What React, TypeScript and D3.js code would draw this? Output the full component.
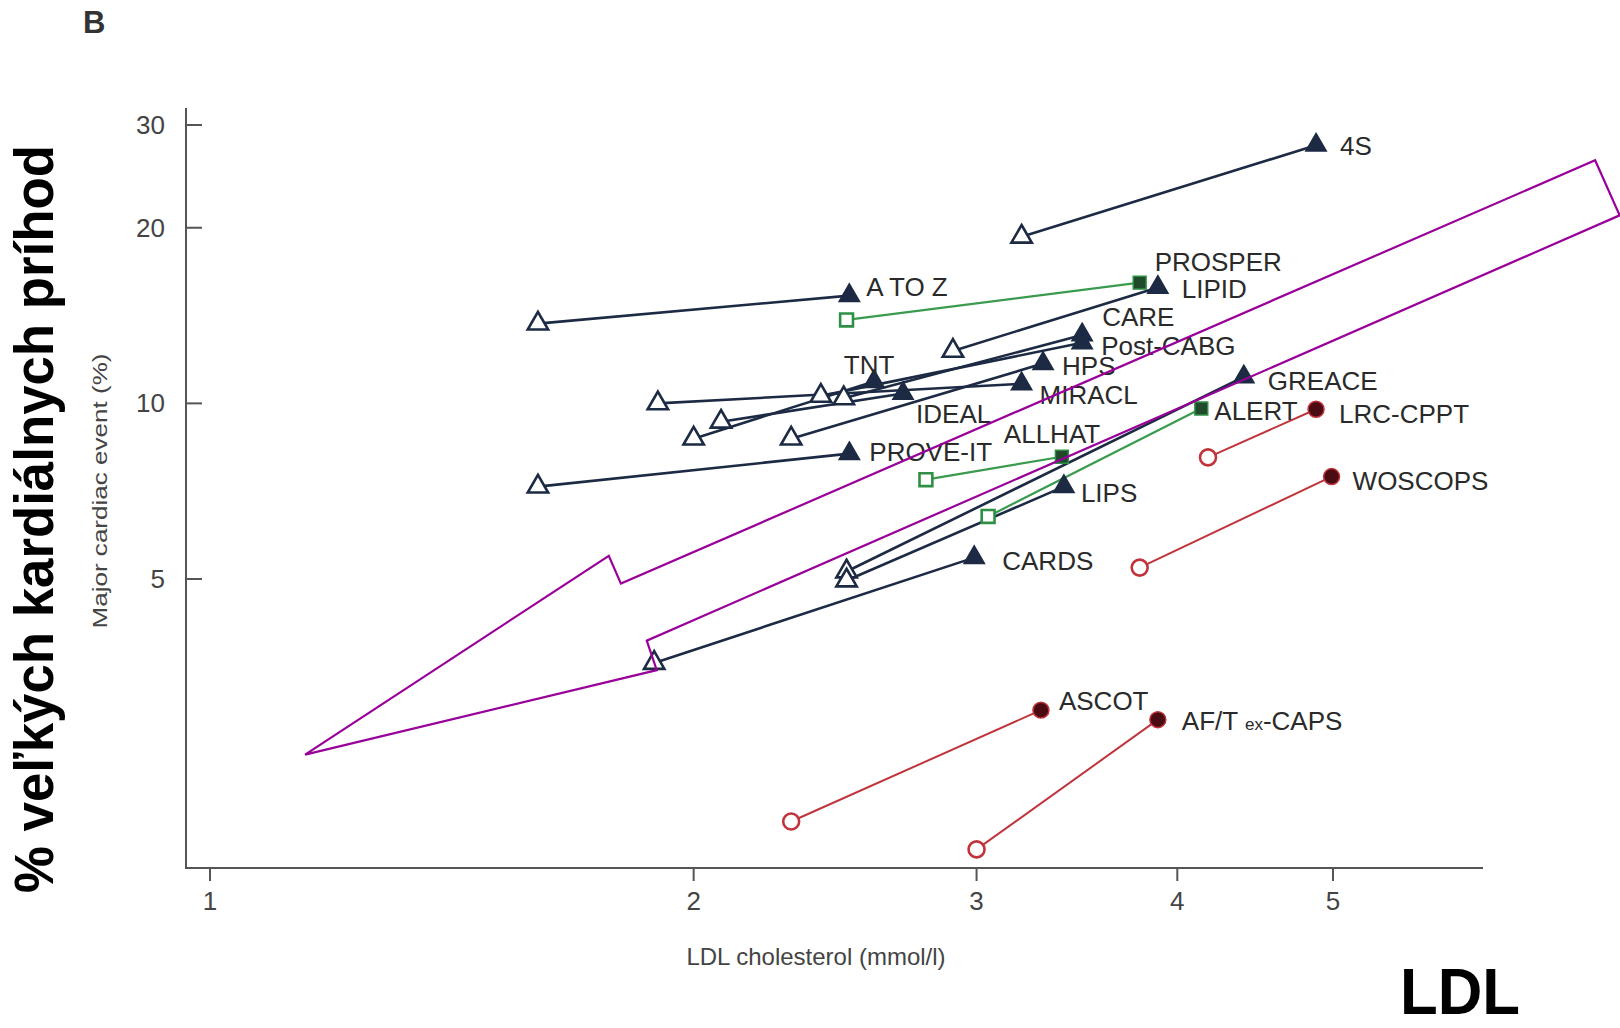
import * as React from "react";
import * as d3 from "d3";

// trials, placebo/control (filled) vs treated (open)
const trials = [
  "4S", "A TO Z", "PROSPER", "LIPID", "CARE", "Post-CABG", "HPS", "TNT", "MIRACL", "IDEAL",
  "PROVE-IT", "ALLHAT", "GREACE", "ALERT", "LIPS", "CARDS", "LRC-CPPT", "WOSCOPS", "ASCOT", "AF/TexCAPS",
];
const markerKind = [
  "tri", "tri", "sq", "tri", "tri", "tri", "tri", "tri", "tri", "tri",
  "tri", "sq", "tri", "sq", "tri", "tri", "circ", "circ", "circ", "circ",
];
const controlLdl = [4.88, 2.5, 3.79, 3.89, 3.49, 3.49, 3.3, 2.59, 3.2, 2.7, 2.5, 3.39, 4.4, 4.14, 3.4, 2.99, 4.88, 4.99, 3.29, 3.89];
const controlRate = [27.7, 15.3, 16.1, 15.8, 13.1, 12.7, 11.7, 10.9, 10.8, 10.4, 8.2, 8.1, 11.1, 9.8, 7.2, 5.44, 9.77, 7.49, 2.98, 2.87];
const treatedLdl = [3.2, 1.6, 2.49, 2.9, 2.48, 2.4, 2.3, 2.0, 1.9, 2.08, 1.6, 2.79, 2.49, 3.05, 2.49, 1.89, 4.18, 3.79, 2.3, 3.0];
const treatedRate = [19.3, 13.7, 13.9, 12.3, 10.2, 10.3, 8.7, 8.7, 10.0, 9.3, 7.2, 7.4, 5.15, 6.4, 4.97, 3.59, 8.08, 5.23, 1.92, 1.72];

const xTicks = [1, 2, 3, 4, 5];
const yTicks = [30, 20, 10, 5];

// annotation arrow outline, in data units (LDL, %)
const arrowLdl = [1.146, 1.771, 1.802, 7.28, 7.54, 1.87, 1.897];
const arrowRate = [2.5, 5.48, 4.91, 26.1, 21.0, 3.92, 3.49];

// label placement relative to the control marker
const labelPos: Record<string, { dx: number; dy: number; anchor?: string }> = {
  "4S": { dx: 24, dy: 10 },
  "A TO Z": { dx: 17, dy: 0 },
  PROSPER: { dx: 15, dy: -12 },
  LIPID: { dx: 24, dy: 11 },
  CARE: { dx: 20, dy: -9 },
  "Post-CABG": { dx: 19, dy: 12 },
  HPS: { dx: 19, dy: 11 },
  TNT: { dx: -5, dy: -8, anchor: "middle" },
  MIRACL: { dx: 18, dy: 20 },
  IDEAL: { dx: 13, dy: 30 },
  "PROVE-IT": { dx: 20, dy: 7 },
  ALLHAT: { dx: -58, dy: -14 },
  GREACE: { dx: 24, dy: 13 },
  ALERT: { dx: 13, dy: 12 },
  LIPS: { dx: 17, dy: 15 },
  CARDS: { dx: 28, dy: 12 },
  "LRC-CPPT": { dx: 23, dy: 14 },
  WOSCOPS: { dx: 21, dy: 13 },
  ASCOT: { dx: 18, dy: 0 },
  "AF/TexCAPS": { dx: 24, dy: 10 },
};

const W = 1620;
const H = 1028;
const left = 186;
const bottom = 868;
const top = 108;
const right = 1483;

const palette: Record<string, { line: string; fill: string; edge: string; lw: number }> = {
  tri: { line: "#1d2a44", fill: "#1d2a44", edge: "#1d2a44", lw: 2.6 },
  sq: { line: "#3a9a4e", fill: "#1f4a2c", edge: "#2f8f45", lw: 2.2 },
  circ: { line: "#c0343c", fill: "#4a0c12", edge: "#c0343c", lw: 2 },
};

const labelFont = "'Liberation Sans', Arial, sans-serif";

export default function App() {
  const x = d3.scaleLog().domain([1, 5]).range([210, 1333]);
  const y = d3.scaleLog().domain([5, 30]).range([579, 125]);

  const symbolFor = (kind: string) => {
    const type = kind === "tri" ? d3.symbolTriangle : kind === "sq" ? d3.symbolSquare : d3.symbolCircle;
    const size = kind === "tri" ? 180 : kind === "sq" ? 165 : 200;
    return d3.symbol().type(type).size(size)() as string;
  };

  const arrowPath =
    d3.line()(arrowLdl.map((v, i) => [x(v), y(arrowRate[i])] as [number, number])) + "Z";

  return (
    <div style={{ position: "fixed", left: 0, top: 0 }}>
      <svg width={W} height={H} viewBox={`0 0 ${W} ${H}`} style={{ display: "block", background: "#fff" }}>
        <rect width={W} height={H} fill="#fff" />

        {/* panel letter */}
        <text x={83} y={33} fontFamily={labelFont} fontWeight="bold" fontSize={31} fill="#333">
          B
        </text>

        {/* axes */}
        <path d={`M${left},${top}V${bottom}H${right}`} fill="none" stroke="#555" strokeWidth={2} />
        {yTicks.map((t) => (
          <g key={`y${t}`}>
            <line x1={left} x2={left + 16} y1={y(t)} y2={y(t)} stroke="#555" strokeWidth={2} />
            <text x={165} y={y(t)} dy="0.35em" textAnchor="end" fontFamily={labelFont} fontSize={26} fill="#444">
              {t}
            </text>
          </g>
        ))}
        {xTicks.map((t) => (
          <g key={`x${t}`}>
            <line x1={x(t)} x2={x(t)} y1={bottom} y2={bottom + 13} stroke="#555" strokeWidth={2} />
            <text x={x(t)} y={901} dy="0.35em" textAnchor="middle" fontFamily={labelFont} fontSize={26} fill="#444">
              {t}
            </text>
          </g>
        ))}
        <text x={816} y={957} dy="0.35em" textAnchor="middle" fontFamily={labelFont} fontSize={24} fill="#444">
          LDL cholesterol (mmol/l)
        </text>
        <text
          transform={`translate(100,491) rotate(-90)`}
          dy="0.35em"
          textAnchor="middle"
          fontFamily={labelFont}
          fontSize={20}
          textLength={275}
          lengthAdjust="spacingAndGlyphs"
          fill="#444"
        >
          Major cardiac event (%)
        </text>

        {/* connecting lines */}
        {trials.map((name, i) => {
          const p = palette[markerKind[i]];
          return (
            <line
              key={`l${name}`}
              x1={x(controlLdl[i])}
              y1={y(controlRate[i])}
              x2={x(treatedLdl[i])}
              y2={y(treatedRate[i])}
              stroke={p.line}
              strokeWidth={p.lw}
            />
          );
        })}

        {/* treated (open) markers */}
        {trials.map((name, i) => {
          const p = palette[markerKind[i]];
          return (
            <path
              key={`o${name}`}
              d={symbolFor(markerKind[i])}
              transform={`translate(${x(treatedLdl[i])},${y(treatedRate[i])})`}
              fill="#fff"
              stroke={p.edge}
              strokeWidth={2.6}
            />
          );
        })}

        {/* control (filled) markers */}
        {trials.map((name, i) => {
          const p = palette[markerKind[i]];
          return (
            <path
              key={`f${name}`}
              d={symbolFor(markerKind[i])}
              transform={`translate(${x(controlLdl[i])},${y(controlRate[i])})`}
              fill={p.fill}
              stroke={p.edge}
              strokeWidth={1.5}
            />
          );
        })}

        {/* trial labels */}
        {trials.map((name, i) => {
          const pos = labelPos[name];
          const lx = x(controlLdl[i]) + pos.dx;
          const ly = y(controlRate[i]) + pos.dy;
          return (
            <text
              key={`t${name}`}
              x={lx}
              y={ly}
              textAnchor={pos.anchor || "start"}
              fontFamily={labelFont}
              fontSize={26}
              fill="#2a2a2a"
            >
              {name === "AF/TexCAPS" ? (
                <>
                  AF/T <tspan fontSize={17}>ex</tspan>-CAPS
                </>
              ) : (
                name
              )}
            </text>
          );
        })}

        {/* annotation arrow */}
        <path d={arrowPath} fill="none" stroke="#990099" strokeWidth={2.2} strokeLinejoin="miter" />

        {/* overlay captions */}
        <text
          transform={`translate(53,519) rotate(-90)`}
          textAnchor="middle"
          fontFamily="'Liberation Sans', Arial, sans-serif"
          fontWeight="bold"
          fontSize={56}
          textLength={748}
          lengthAdjust="spacingAndGlyphs"
          fill="#000"
        >
          % veľkých kardiálnych príhod
        </text>
        <text
          x={1400}
          y={1014}
          fontFamily="'Liberation Sans', Arial, sans-serif"
          fontWeight="bold"
          fontSize={64}
          textLength={120}
          lengthAdjust="spacingAndGlyphs"
          fill="#000"
        >
          LDL
        </text>
      </svg>
    </div>
  );
}
